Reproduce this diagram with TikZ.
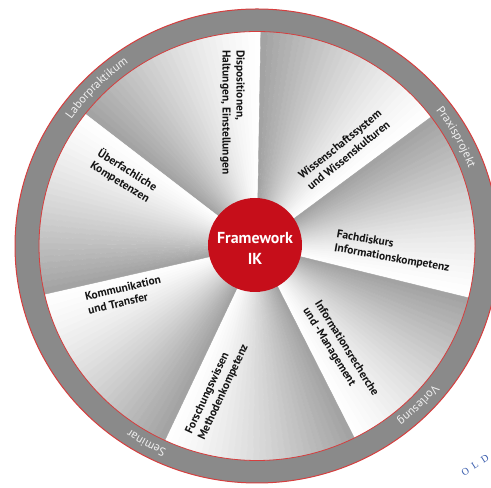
\documentclass[tikz,border=0pt]{standalone}
\usepackage{fontspec}
\setmainfont{PT Sans}
\newfontfamily\serifw{Liberation Serif}
\usetikzlibrary{decorations.text}
\definecolor{ikred}{RGB}{198,14,26}
\definecolor{ringgray}{RGB}{138,138,138}
\definecolor{ringline}{RGB}{214,62,62}
\definecolor{ringtext}{RGB}{240,240,240}
\definecolor{wmblue}{RGB}{60,95,175}
\tikzset{
  seclabel/.style={font=\fontsize{11.5}{14}\selectfont\bfseries, align=left, anchor=west, inner sep=0pt, text=black!92},
  ringlabel/.style={decorate, decoration={text along path, text align=center, text color=ringtext, text={|\fontsize{12}{13}\selectfont|#1}}},
}
\begin{document}
\begin{tikzpicture}[x=1bp,y=1bp]
\useasboundingbox (0,0) rectangle (491,488);
\clip (0,0) rectangle (491,488);
\fill[white] (0,0) rectangle (491,488);
\begin{scope}[shift={(257,242)}]
  % sectors with angular gradient
  \foreach \w/\g in {89/142, 37/89, -14/37, -63.5/-14, -115/-63.5, -167/-115, 142/193}{
    \foreach \j in {0,...,29}{
      \pgfmathsetmacro\sa{\w+(\g-\w)*\j/30}
      \pgfmathsetmacro\sb{\w+(\g-\w)*(\j+1)/30}
      \pgfmathsetmacro\pc{37*((\j+0.5)/30)^1.3}
      \fill[black!\pc, draw=black!\pc, line width=0.4bp] (0,0) -- (\sa:240 and 236) arc[start angle=\sa, end angle=\sb, x radius=240, y radius=236] -- cycle;
    }
  }
  % ring
  \fill[ringgray, even odd rule] (0,0) ellipse[x radius=242, y radius=237] (0,0) ellipse[x radius=218, y radius=214.5];
  \draw[ringline, line width=1bp] (0,0) ellipse[x radius=242, y radius=237];
  \draw[ringline, line width=0.8bp] (0,0) ellipse[x radius=218, y radius=214.5];
  % ring labels (clockwise)
  \path[ringlabel=Laborpraktikum] (165:226 and 222) arc[start angle=165, end angle=105, x radius=226, y radius=222];
  \path[ringlabel=Praxisprojekt] (59:226 and 222) arc[start angle=59, end angle=-1, x radius=226, y radius=222];
  \path[ringlabel=Vorlesung] (-15:226 and 222) arc[start angle=-15, end angle=-75, x radius=226, y radius=222];
  \path[ringlabel=Seminar] (-89:226 and 222) arc[start angle=-89, end angle=-149, x radius=226, y radius=222];
\end{scope}
% centre
\node[circle, fill=ikred, minimum size=94bp, inner sep=0pt] (core) at (255,243) {};
\node[font=\fontsize{16}{20.5}\selectfont\bfseries, text=white, align=center, inner sep=0pt] (coretext) at (255,239.5) {Framework\\IK};
% sector labels
\node[seclabel, rotate=-90] (dispo) at (232.5,438) {Dispositionen,\\Haltungen, Einstellungen};
\node[seclabel, rotate=39] (wiss) at (304,305.6) {Wissenschaftssystem\\und Wissenskulturen};
\node[seclabel, rotate=-10] (fach) at (335.5,246.5) {Fachdiskurs\\Informationskompetenz};
\node[seclabel, rotate=-58] (recherche) at (311,182.7) {Informationsrecherche\\und -Management};
\node[seclabel, rotate=65] (forsch) at (195.2,51.5) {Forschungswissen\\Methodenkompetenz};
\node[seclabel, rotate=13] (komm) at (86.5,184.5) {Kommunikation\\und Transfer};
\node[seclabel, rotate=-32] (ueber) at (95.1,329.9) {Überfachliche\\Kompetenzen};
% watermark fragment
\node[font=\serifw\fontsize{10}{10}\selectfont, text=wmblue, rotate=33, inner sep=0pt] (wm) at (475,23) {O\hspace{5pt}L\hspace{5pt}D};
\end{tikzpicture}
\end{document}
